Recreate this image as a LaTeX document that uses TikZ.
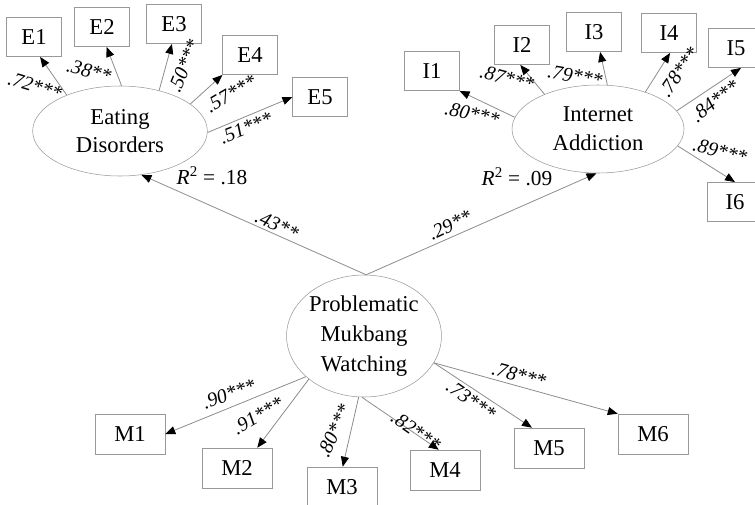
\documentclass[tikz,border=0pt]{standalone}
\usepackage{fontspec}
\setmainfont{Liberation Serif}
\usetikzlibrary{shapes.geometric,arrows.meta}

\begin{document}
\begin{tikzpicture}[x=0.75pt,y=-0.75pt,
    latent/.style={ellipse,draw=gray!80,inner sep=0pt,align=center,font=\fontsize{17}{21.5}\selectfont},
    item/.style={rectangle,draw=gray!80,inner sep=0pt,minimum width=41pt,minimum height=29.5pt,font=\fontsize{17}{20}\selectfont},
    mitem/.style={item,minimum width=52.5pt,minimum height=30pt},
    load/.style={draw=gray!90,line width=0.6pt,-{Triangle[length=7.5pt,width=6pt,color=black]}},
    coef/.style={inner sep=0pt,font=\fontsize{15}{18}\selectfont\itshape}]
  \useasboundingbox (0,0) rectangle (755,504);

  % latent variables
  \node[latent,minimum width=131pt,minimum height=67.5pt] (ed) at (120,131) {Eating\\Disorders};
  \node[latent,minimum width=129pt,minimum height=66pt] (ia) at (598,129) {Internet\\Addiction};
  \node[latent,minimum width=112.5pt,minimum height=91.5pt,font=\fontsize{17}{22.5}\selectfont] (pmw) at (364,336) {Problematic\\Mukbang\\Watching};

  % indicators
  \node[item] (e1) at (34,37) {E1};
  \node[item] (e2) at (102,27) {E2};
  \node[item] (e3) at (174,24) {E3};
  \node[item] (e4) at (250,55) {E4};
  \node[item] (e5) at (320,97) {E5};
  \node[item] (i1) at (432,71) {I1};
  \node[item] (i2) at (522,45) {I2};
  \node[item] (i3) at (594,32) {I3};
  \node[item] (i4) at (669,33) {I4};
  \node[item] (i5) at (736,48) {I5};
  \node[item] (i6) at (735,202) {I6};
  \node[mitem] (m1) at (130,434) {M1};
  \node[mitem] (m2) at (237,468) {M2};
  \node[mitem] (m3) at (342,487) {M3};
  \node[mitem] (m4) at (445,470) {M4};
  \node[mitem] (m5) at (549,448) {M5};
  \node[mitem] (m6) at (653,434) {M6};

  % loadings
  \draw[load] (ed.146) -- (e1.-73);
  \draw[load] (ed.88) -- (e2.-77);
  \draw[load] (ed.46) -- (e3.-96);
  \draw[load] (ed.21) -- (e4.south west);
  \draw[load] (ed.-1) -- (e5.west);
  \draw[load] (ia.172) -- (i1.south east);
  \draw[load] (ia.147) -- (i2.-95);
  \draw[load] (ia.78) -- (i3.-73);
  \draw[load] (ia.38) -- (i4.-87);
  \draw[load] (ia.13) -- (i5.-76);
  \draw[load] (ia.-12) -- (i6.north);
  \draw[load] (pmw.-145) -- (m1.east);
  \draw[load] (pmw.-142) -- (m2.45);
  \draw[load] (pmw.-95) -- (m3.88);
  \draw[load] (pmw.-92) -- (m4.107);
  \draw[load] (pmw.-21) -- (m5.130);
  \draw[load] (pmw.-21) -- (m6.north west);

  % structural paths
  \draw[load] (pmw.88) -- (ed.-64);
  \draw[load] (pmw.88) -- (ia.-92);

  % coefficients
  \node[coef,rotate=-17] (ce1) at (35,86) {.72***};
  \node[coef,rotate=-15] (ce2) at (89,71) {.38**};
  \node[coef,rotate=68] (ce3) at (184,66) {.50***};
  \node[coef,rotate=30] (ce4) at (231,94) {.57***};
  \node[coef,rotate=22] (ce5) at (246,128) {.51***};
  \node[coef,rotate=-12] (ci1) at (472,114) {.80***};
  \node[coef,rotate=-15] (ci2) at (507,78) {.87***};
  \node[coef,rotate=-10] (ci3) at (575,76) {.79***};
  \node[coef,rotate=55] (ci4) at (679,72) {.78***};
  \node[coef,rotate=38] (ci5) at (715,101) {.84***};
  \node[coef,rotate=-15] (ci6) at (720,151) {.89***};
  \node[coef,rotate=20] (cm1) at (229,394) {.90***};
  \node[coef,rotate=30] (cm2) at (258,416) {.91***};
  \node[coef,rotate=65] (cm3) at (334,431) {.80***};
  \node[coef,rotate=-35] (cm4) at (416,431) {.82***};
  \node[coef,rotate=-35] (cm5) at (471,400) {.73***};
  \node[coef,rotate=-15] (cm6) at (519,375) {.78***};
  \node[coef,rotate=-25] (cs1) at (277,225) {.43**};
  \node[coef,rotate=25] (cs2) at (450,225) {.29**};
  \node[coef,font=\fontsize{16}{18}\selectfont] (r1) at (212,176) {\textit{R}\textsuperscript{2} = .18};
  \node[coef,font=\fontsize{16}{18}\selectfont] (r2) at (517,177) {\textit{R}\textsuperscript{2} = .09};
\end{tikzpicture}
\end{document}
